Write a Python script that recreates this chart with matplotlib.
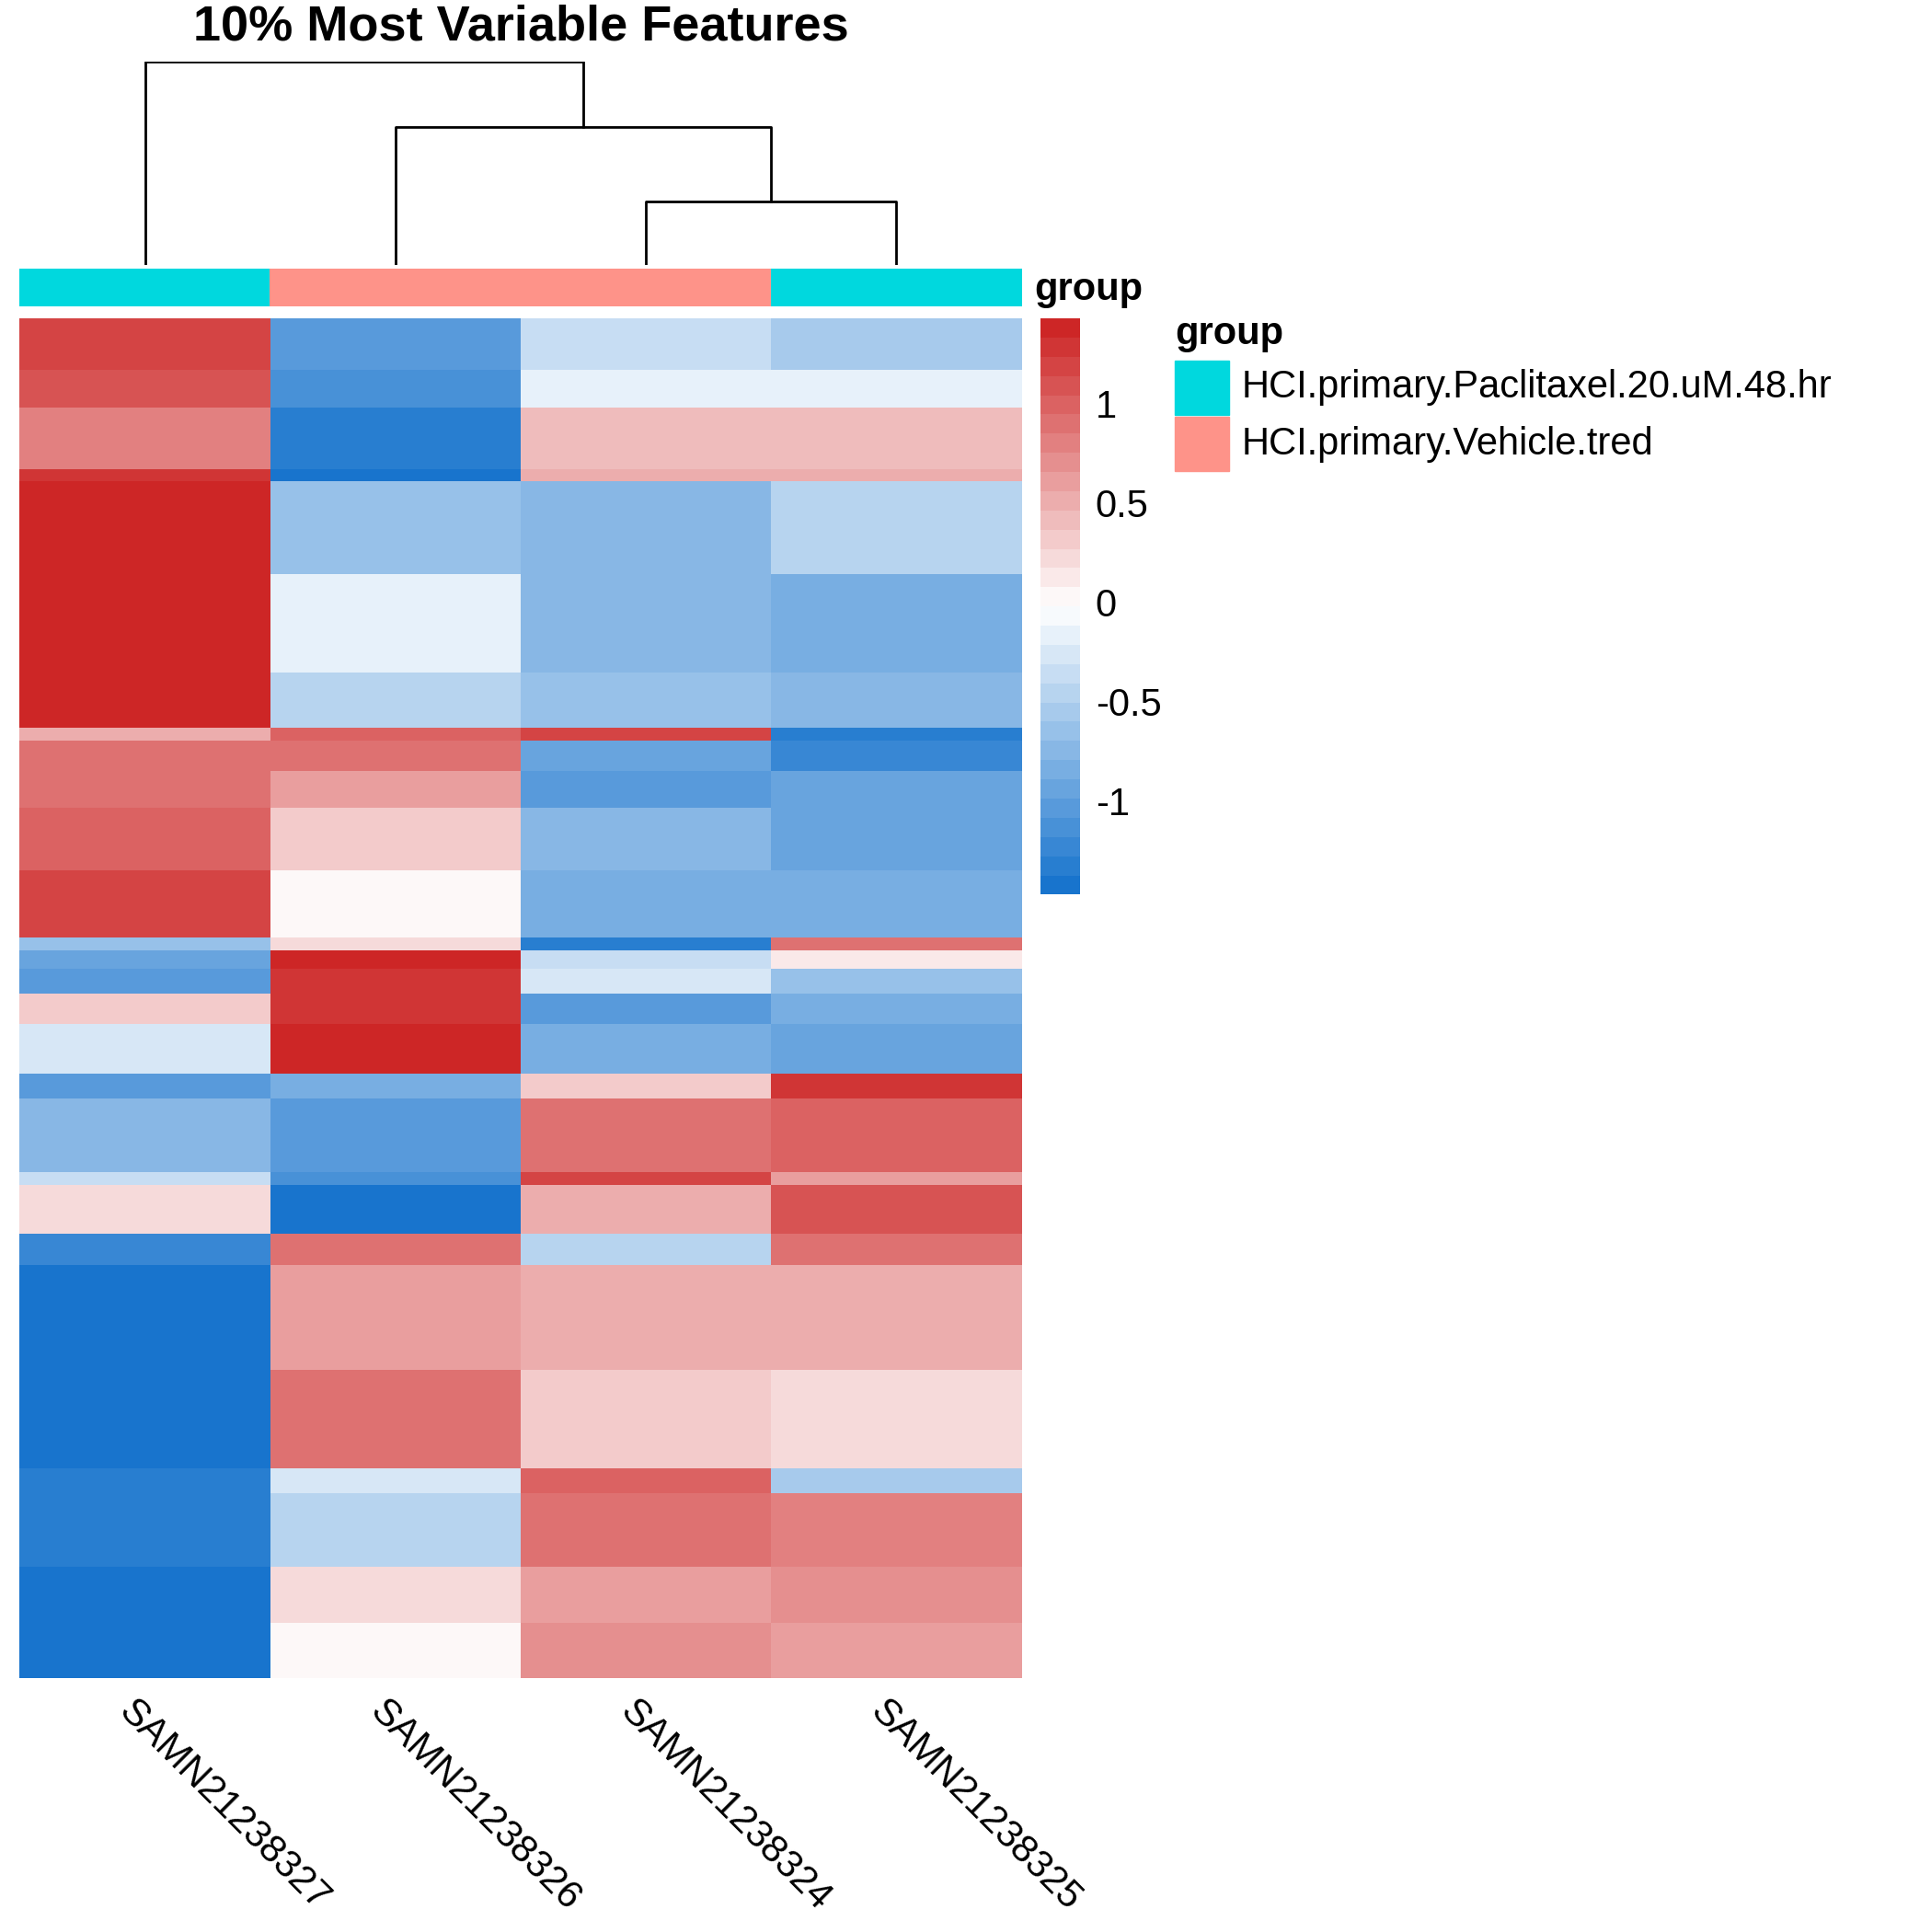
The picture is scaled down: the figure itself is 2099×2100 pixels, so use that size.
import numpy as np
import matplotlib
matplotlib.use('Agg')
import matplotlib.pyplot as plt
from matplotlib.colors import LinearSegmentedColormap, ListedColormap
from matplotlib.patches import Rectangle

plt.rcParams['font.family'] = ['Liberation Sans', 'DejaVu Sans']

samples = ['SAMN21238327', 'SAMN21238326', 'SAMN21238324', 'SAMN21238325']
groups = ['HCI.primary.Paclitaxel.20.uM.48.hr', 'HCI.primary.Vehicle.tred',
          'HCI.primary.Vehicle.tred', 'HCI.primary.Paclitaxel.20.uM.48.hr']
group_levels = ['HCI.primary.Paclitaxel.20.uM.48.hr', 'HCI.primary.Vehicle.tred']
group_colors = ['#00D8DE', '#FE9389']

# row band edges (position along the row axis, top = 258)
band_edges = [258, 300, 330, 380, 390, 465, 545, 590, 600, 625, 655, 705, 760, 770,
              785, 805, 830, 870, 890, 950, 960, 1000, 1025, 1110, 1190, 1210, 1270, 1315, 1360]
col_327 = [1.2, 1.1, 0.8, 1.3, 1.4, 1.4, 1.45, 0.5, 0.9, 0.9, 1.0, 1.2, -0.6, -0.9,
           -1.0, 0.3, -0.2, -1.0, -0.7, -0.3, 0.2, -1.2, -1.45, -1.4, -1.3, -1.3, -1.45, -1.45]
col_326 = [-1.0, -1.1, -1.3, -1.4, -0.6, -0.1, -0.4, 1.0, 0.9, 0.6, 0.3, 0.0, 0.2, 1.4,
           1.3, 1.3, 1.4, -0.8, -1.0, -1.1, -1.4, 0.9, 0.6, 0.9, -0.2, -0.4, 0.2, 0.0]
col_324 = [-0.3, -0.1, 0.4, 0.5, -0.7, -0.7, -0.6, 1.2, -0.9, -1.0, -0.7, -0.8, -1.3, -0.3,
           -0.2, -1.0, -0.8, 0.3, 0.9, 1.2, 0.5, -0.4, 0.5, 0.3, 1.0, 0.9, 0.6, 0.7]
col_325 = [-0.5, -0.1, 0.4, 0.5, -0.4, -0.8, -0.7, -1.3, -1.2, -0.9, -0.9, -0.8, 0.9, 0.1,
           -0.6, -0.8, -0.9, 1.3, 1.0, 0.6, 1.1, 0.9, 0.5, 0.2, -0.5, 0.8, 0.7, 0.6]
# dendrogram merge heights
merge_heights = [52, 112, 165]

W, H = 2099, 2100
s = W / 1565.0

def ax_at(x0, y0, x1, y1):
    return fig.add_axes([x0 * s / W, 1 - y1 * s / H, (x1 - x0) * s / W, (y1 - y0) * s / H])

cmap = LinearSegmentedColormap.from_list('rb', ['#1874CD', '#FFFFFF', '#CD2626'], N=30)
vmin, vmax = -1.45, 1.45
fs = 30

fig = plt.figure(figsize=(W / 100, H / 100), dpi=100)

# heatmap
ax = ax_at(16, 258, 828, 1360)
data = np.array([col_327, col_326, col_324, col_325]).T
ax.pcolormesh(np.arange(5), band_edges, data, cmap=cmap, vmin=vmin, vmax=vmax)
ax.set_xlim(0, 4)
ax.set_ylim(1360, 258)
ax.axis('off')
for i, name in enumerate(samples):
    ax.text(i + 0.47, 1372, name, rotation=-45, ha='left', va='top',
            rotation_mode='anchor', fontsize=fs)

# annotation bar
axa = ax_at(16, 218, 828, 248)
axa.imshow([[group_levels.index(g) for g in groups]], aspect='auto',
           cmap=ListedColormap(group_colors), extent=(0, 4, 0, 1))
axa.axis('off')
fig.text(838 * s / W, 1 - 235 * s / H, 'group', fontsize=fs, fontweight='bold', va='center')

# dendrogram
axd = ax_at(16, 50, 828, 215)
axd.set_xlim(0, 4)
axd.set_ylim(0, 165)
axd.axis('off')
h1, h2, h3 = merge_heights
lw = 2
axd.plot([2.5, 2.5, 3.5, 3.5], [0, h1, h1, 0], color='black', lw=lw)
axd.plot([1.5, 1.5, 3.0, 3.0], [0, h2, h2, h1], color='black', lw=lw)
axd.plot([0.5, 0.5, 2.25, 2.25], [0, h3, h3, h2], color='black', lw=lw)

fig.text(422 * s / W, 1 - 22 * s / H, '10% Most Variable Features', fontsize=39,
         fontweight='bold', ha='center', va='center')

# colorbar
axc = ax_at(843, 258, 875, 725)
levels = np.linspace(vmin, vmax, 31)
axc.pcolormesh([0, 1], levels, ((levels[:-1] + levels[1:]) / 2)[:, None],
               cmap=cmap, vmin=vmin, vmax=vmax)
axc.set_xlim(0, 1)
axc.set_ylim(vmin, vmax)
axc.axis('off')
for t in [1, 0.5, 0, -0.5, -1]:
    axc.text(1.4, t, f'{t:g}', fontsize=fs, va='center', ha='left')

# group legend
fig.text(952 * s / W, 1 - 271 * s / H, 'group', fontsize=fs, fontweight='bold', va='center')
for k, (lab, c) in enumerate(zip(group_levels, group_colors)):
    y0 = 292 + k * 46
    fig.patches.append(Rectangle((952 * s / W, 1 - (y0 + 44) * s / H), 44 * s / W, 44 * s / H,
                                 transform=fig.transFigure, color=c))
    fig.text(1006 * s / W, 1 - (y0 + 22) * s / H, lab, fontsize=fs, va='center')

fig.savefig('out.png', dpi=100)
